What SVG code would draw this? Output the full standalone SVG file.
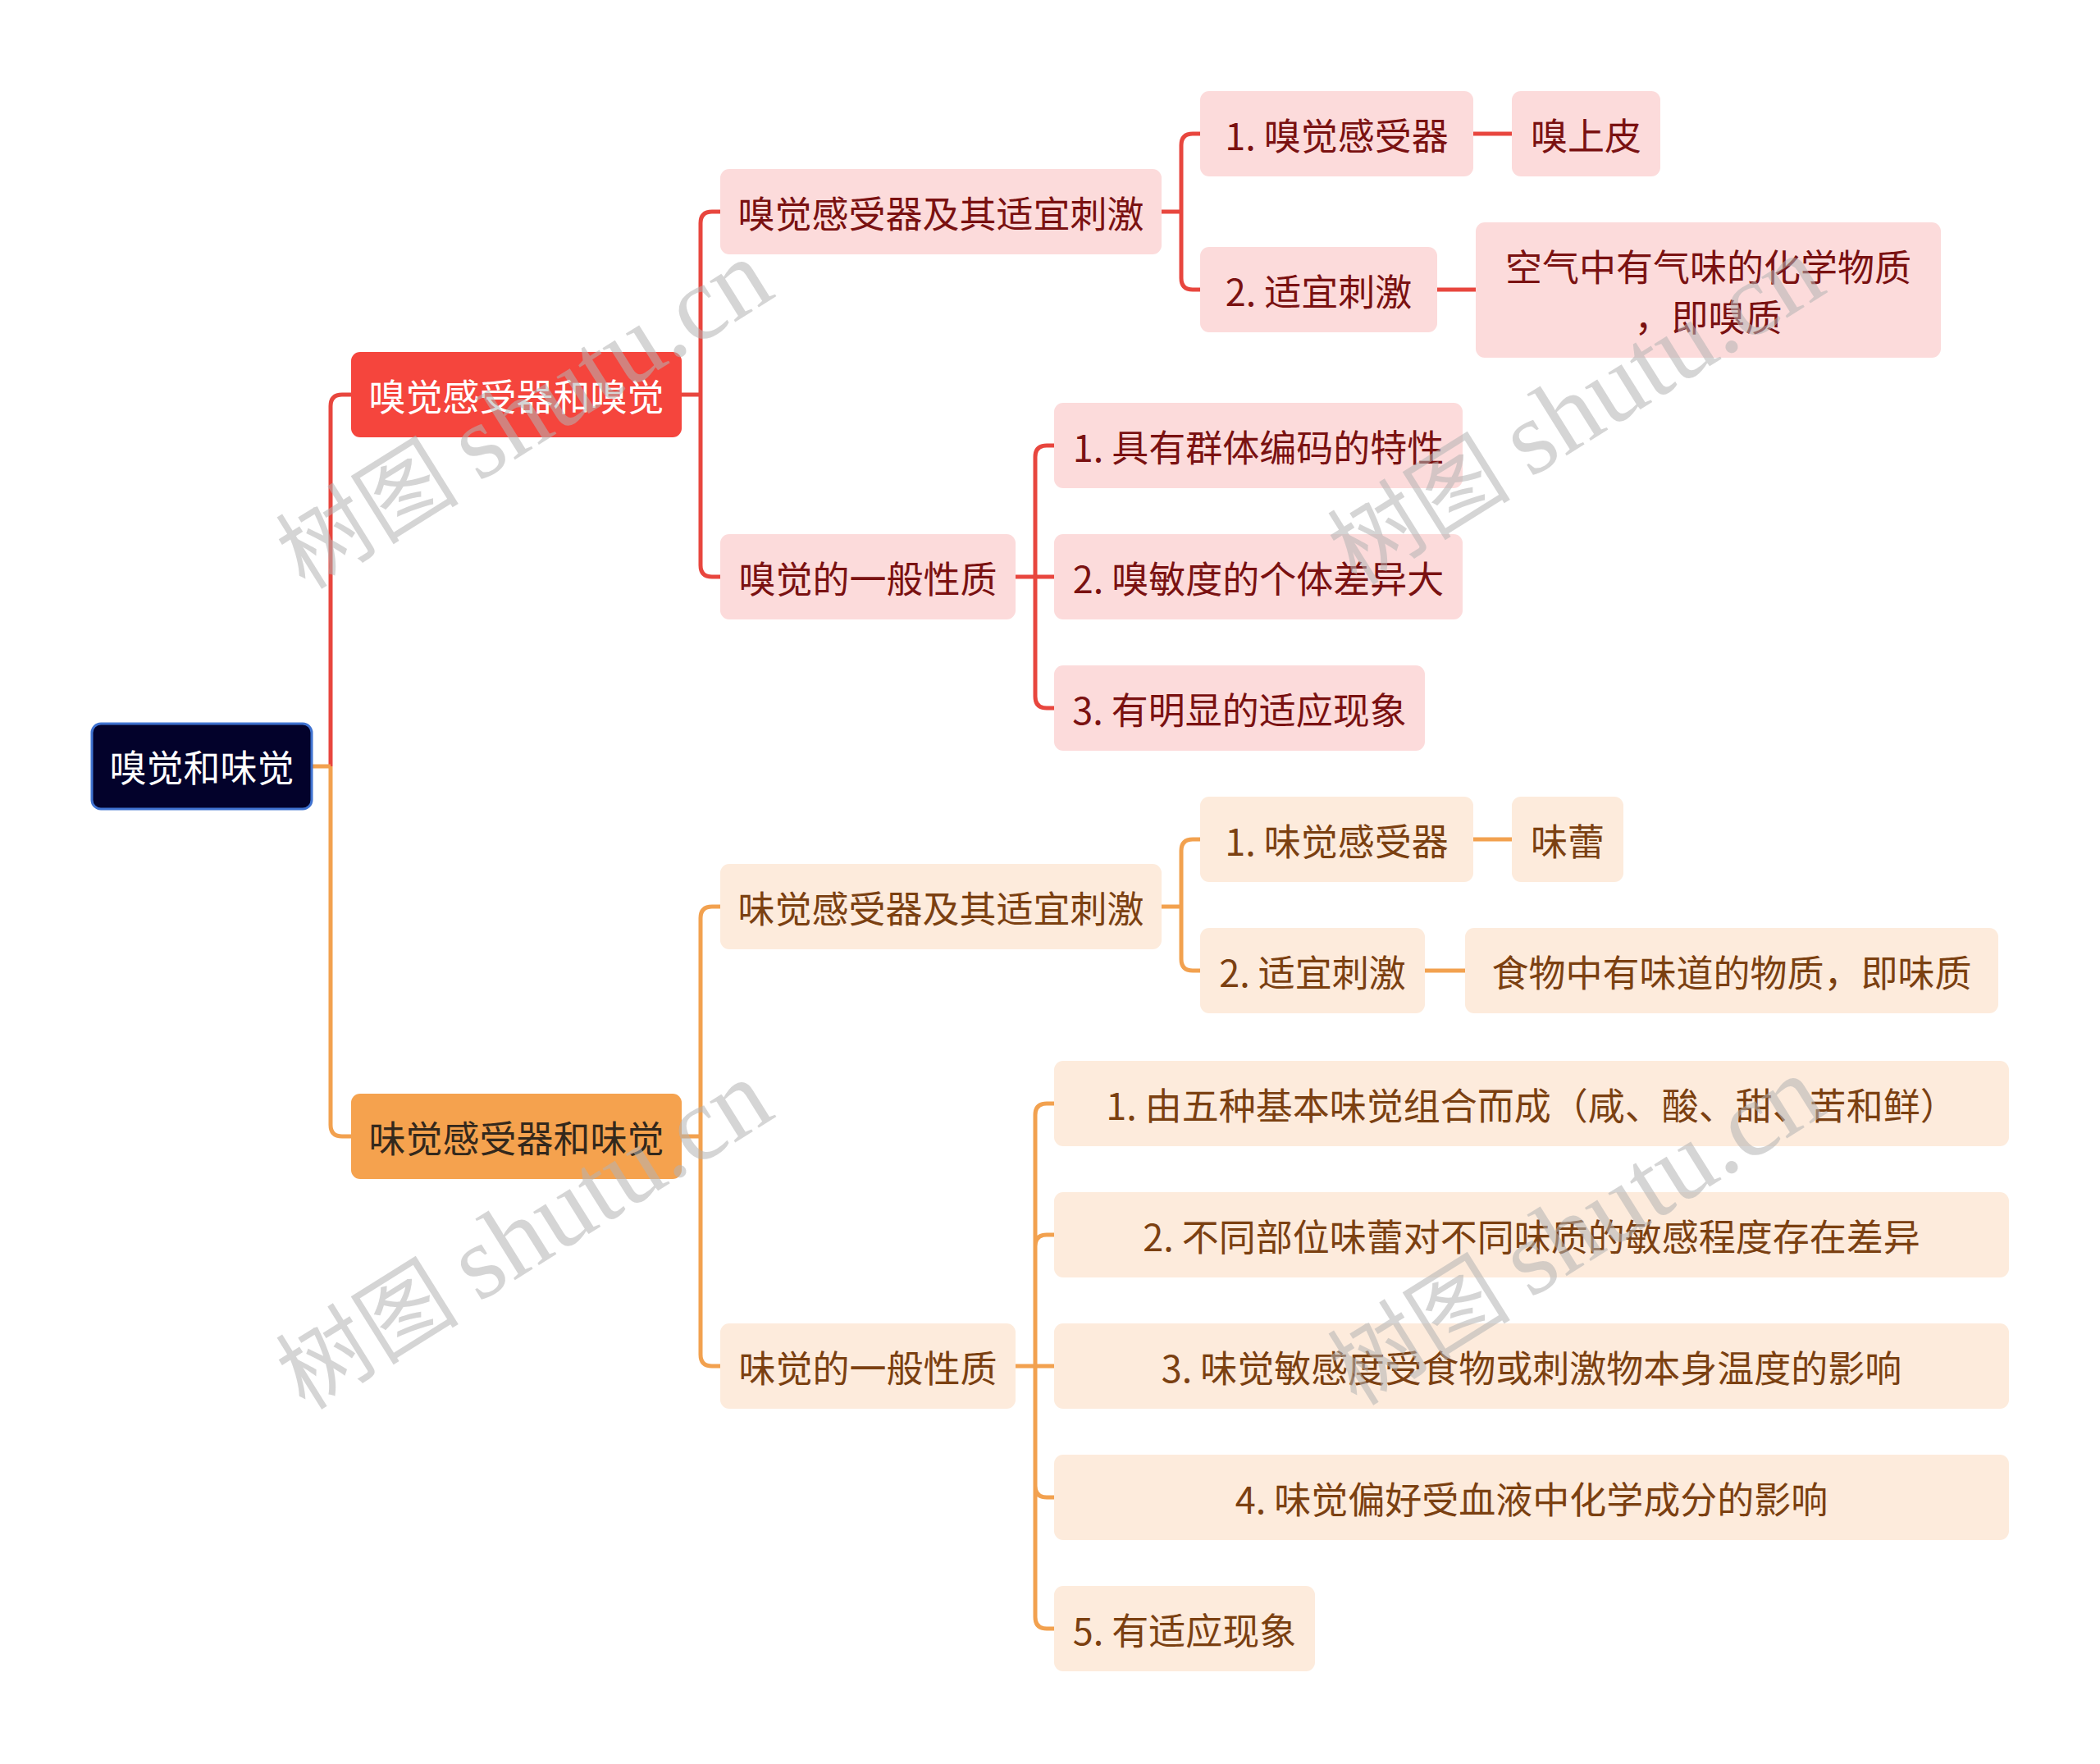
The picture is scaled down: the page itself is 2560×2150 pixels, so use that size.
<svg xmlns="http://www.w3.org/2000/svg" width="2560" height="2150" viewBox="0 0 2560 2150">
<style>
text{font-family:"Noto Sans CJK SC","Noto Sans",sans-serif;font-size:45px;text-anchor:middle;dominant-baseline:central}
.root rect{fill:#03022b;stroke:#3f72d0;stroke-width:3}
.root text{fill:#ffffff}
.r1 rect{fill:#f5453d}
.r1 text{fill:#ffffff}
.o1 rect{fill:#f5a24e}
.o1 text{fill:#33281c}
.rn rect{fill:#fcdbdb}
.rn text{fill:#7a1111}
.on rect{fill:#fdebdc}
.on text{fill:#7b4011}
.cr path{fill:none;stroke:#e8463e;stroke-width:5}
.co path{fill:none;stroke:#f2a14f;stroke-width:5}
.wm text{fill:#b4b4b4;opacity:0.55;dominant-baseline:auto;text-anchor:middle}
</style>
<rect width="2560" height="2150" fill="#ffffff"/>
<g id="connectors">
 <g class="cr">
  <path d="M403,934 V495 Q403,481 417,481 H428"/>
  <path d="M831,481 H854 M854,481 V272 Q854,258 868,258 H878 M854,481 V689 Q854,703 868,703 H878"/>
  <path d="M1416,258 H1440 M1440,258 V177 Q1440,163 1454,163 H1463 M1440,258 V339 Q1440,353 1454,353 H1463"/>
  <path d="M1238,703 H1285 M1262,703 V557 Q1262,543 1276,543 H1285 M1262,703 V849 Q1262,863 1276,863 H1285"/>
  <path d="M1796,163 H1843 M1752,353 H1799"/>
 </g>
 <g class="co">
  <path d="M380,934 H403 M403,934 V1371 Q403,1385 417,1385 H428"/>
  <path d="M831,1385 H854 M854,1385 V1119 Q854,1105 868,1105 H878 M854,1385 V1651 Q854,1665 868,1665 H878"/>
  <path d="M1416,1105 H1440 M1440,1105 V1037 Q1440,1023 1454,1023 H1463 M1440,1105 V1169 Q1440,1183 1454,1183 H1463"/>
  <path d="M1238,1665 H1285 M1262,1665 V1359 Q1262,1345 1276,1345 H1285 M1262,1665 V1519 Q1262,1505 1276,1505 H1285 M1262,1665 V1811 Q1262,1825 1276,1825 H1285 M1262,1665 V1971 Q1262,1985 1276,1985 H1285"/>
  <path d="M1796,1023 H1843 M1737,1183 H1786"/>
 </g>
</g>
<g id="root" class="root"><rect x="112" y="882" width="268" height="104" rx="11"/><text x="246" y="933">嗅觉和味觉</text></g>
<g id="smell" class="r1"><rect x="428" y="429" width="403" height="104" rx="11"/><text x="629.5" y="481">嗅觉感受器和嗅觉</text></g>
<g id="taste" class="o1"><rect x="428" y="1333" width="403" height="104" rx="11"/><text x="629.5" y="1385">味觉感受器和味觉</text></g>

<g id="s-receptor" class="rn"><rect x="878" y="206" width="538" height="104" rx="11"/><text x="1147" y="258">嗅觉感受器及其适宜刺激</text></g>
<g id="s-general" class="rn"><rect x="878" y="651" width="360" height="104" rx="11"/><text x="1058" y="703">嗅觉的一般性质</text></g>
<g id="s-r1" class="rn"><rect x="1463" y="111" width="333" height="104" rx="11"/><text x="1629.5" y="163">1. 嗅觉感受器</text></g>
<g id="s-r1a" class="rn"><rect x="1843" y="111" width="181" height="104" rx="11"/><text x="1933.5" y="163">嗅上皮</text></g>
<g id="s-r2" class="rn"><rect x="1463" y="301" width="289" height="104" rx="11"/><text x="1607.5" y="353">2. 适宜刺激</text></g>
<g id="s-r2a" class="rn"><rect x="1799" y="271" width="567" height="165" rx="11"/><text x="2082.5" y="323">空气中有气味的化学物质</text><text x="2082.5" y="384">，即嗅质</text></g>
<g id="s-g1" class="rn"><rect x="1285" y="491" width="498" height="104" rx="11"/><text x="1534" y="543">1. 具有群体编码的特性</text></g>
<g id="s-g2" class="rn"><rect x="1285" y="651" width="498" height="104" rx="11"/><text x="1534" y="703">2. 嗅敏度的个体差异大</text></g>
<g id="s-g3" class="rn"><rect x="1285" y="811" width="452" height="104" rx="11"/><text x="1511" y="863">3. 有明显的适应现象</text></g>

<g id="t-receptor" class="on"><rect x="878" y="1053" width="538" height="104" rx="11"/><text x="1147" y="1105">味觉感受器及其适宜刺激</text></g>
<g id="t-general" class="on"><rect x="878" y="1613" width="360" height="104" rx="11"/><text x="1058" y="1665">味觉的一般性质</text></g>
<g id="t-r1" class="on"><rect x="1463" y="971" width="333" height="104" rx="11"/><text x="1629.5" y="1023">1. 味觉感受器</text></g>
<g id="t-r1a" class="on"><rect x="1843" y="971" width="136" height="104" rx="11"/><text x="1911" y="1023">味蕾</text></g>
<g id="t-r2" class="on"><rect x="1463" y="1131" width="274" height="104" rx="11"/><text x="1600" y="1183">2. 适宜刺激</text></g>
<g id="t-r2a" class="on"><rect x="1786" y="1131" width="650" height="104" rx="11"/><text x="2111" y="1183">食物中有味道的物质，即味质</text></g>
<g id="t-g1" class="on"><rect x="1285" y="1293" width="1164" height="104" rx="11"/><text x="1867" y="1345">1. 由五种基本味觉组合而成（咸、酸、甜、苦和鲜）</text></g>
<g id="t-g2" class="on"><rect x="1285" y="1453" width="1164" height="104" rx="11"/><text x="1867" y="1505">2. 不同部位味蕾对不同味质的敏感程度存在差异</text></g>
<g id="t-g3" class="on"><rect x="1285" y="1613" width="1164" height="104" rx="11"/><text x="1867" y="1665">3. 味觉敏感度受食物或刺激物本身温度的影响</text></g>
<g id="t-g4" class="on"><rect x="1285" y="1773" width="1164" height="104" rx="11"/><text x="1867" y="1825">4. 味觉偏好受血液中化学成分的影响</text></g>
<g id="t-g5" class="on"><rect x="1285" y="1933" width="318" height="104" rx="11"/><text x="1444" y="1985">5. 有适应现象</text></g>

<g class="wm">
 <text transform="translate(660,540) rotate(-32)"><tspan font-size="112">树图 </tspan><tspan font-family="Liberation Serif" font-size="128">shutu.cn</tspan></text>
 <text transform="translate(660,1540) rotate(-32)"><tspan font-size="112">树图 </tspan><tspan font-family="Liberation Serif" font-size="128">shutu.cn</tspan></text>
 <text transform="translate(1942,535) rotate(-32)"><tspan font-size="112">树图 </tspan><tspan font-family="Liberation Serif" font-size="128">shutu.cn</tspan></text>
 <text transform="translate(1942,1535) rotate(-32)"><tspan font-size="112">树图 </tspan><tspan font-family="Liberation Serif" font-size="128">shutu.cn</tspan></text>
</g>
</svg>
